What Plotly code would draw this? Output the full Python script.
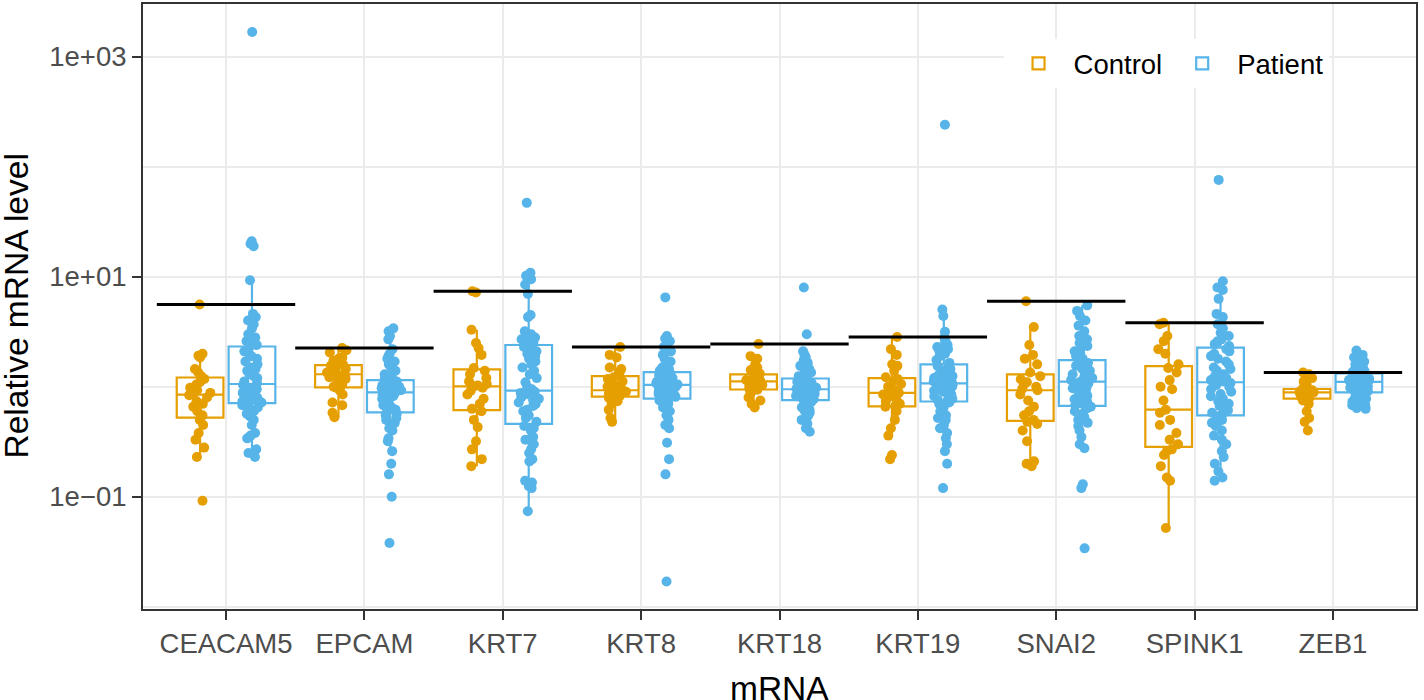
import numpy as np
import plotly.graph_objects as go

genes = ["CEACAM5", "EPCAM", "KRT7", "KRT8", "KRT18", "KRT19", "SNAI2", "SPINK1", "ZEB1"]
group_names = ["Control", "Patient"]
group_colors = ["#E69F00", "#56B4E9"]
x_title = "mRNA"
y_title = "Relative mRNA level"

# ---- Relative mRNA levels ----
CEACAM5_control = [5.6, 2.0, 1.92, 1.85, 1.45, 1.35, 1.25, 1.18, 1.1, 1.05, 0.98, 0.93, 0.88, 0.86,
                   0.84, 0.80, 0.74, 0.70, 0.66, 0.60, 0.55, 0.50, 0.45, 0.38, 0.33, 0.28, 0.23, 0.092]
CEACAM5_patient = [1680, 21, 20, 19, 9.3, 4.6, 4.3, 4.0, 3.7, 3.4, 3.0, 2.8, 2.6, 2.5, 2.4,
                   2.25, 2.1, 2.0, 1.9, 1.8, 1.7, 1.6, 1.5, 1.45, 1.4, 1.3, 1.25, 1.2, 1.12, 1.08,
                   1.04, 1.0, 0.98, 0.95, 0.92, 0.9, 0.88, 0.85, 0.82, 0.8, 0.78, 0.76, 0.74, 0.73, 0.72,
                   0.70, 0.68, 0.65, 0.62, 0.6, 0.57, 0.54, 0.5, 0.45, 0.38, 0.36, 0.34, 0.27, 0.25, 0.23]
EPCAM_control = [2.25, 2.15, 2.05, 1.85, 1.8, 1.72, 1.6, 1.55, 1.5, 1.45, 1.4, 1.35, 1.32, 1.30,
                 1.27, 1.22, 1.18, 1.12, 1.05, 1.0, 0.98, 0.92, 0.85, 0.72, 0.68, 0.58, 0.53]
EPCAM_patient = [3.4, 3.2, 2.9, 2.7, 2.2, 2.0, 1.9, 1.8, 1.7, 1.6, 1.5, 1.4, 1.3, 1.25, 1.18,
                 1.12, 1.1, 1.08, 1.05, 1.03, 1.0, 0.99, 0.97, 0.96, 0.95, 0.94, 0.93, 0.92, 0.91, 0.90,
                 0.88, 0.86, 0.84, 0.82, 0.8, 0.78, 0.76, 0.74, 0.72, 0.7, 0.68, 0.66, 0.64, 0.62, 0.6,
                 0.57, 0.55, 0.52, 0.5, 0.47, 0.45, 0.42, 0.4, 0.34, 0.32, 0.26, 0.2, 0.16, 0.1, 0.038]
KRT7_control = [7.4, 7.2, 3.3, 2.5, 2.25, 1.95, 1.48, 1.40, 1.3, 1.2, 1.12, 1.06, 1.03, 1.01,
                0.98, 0.92, 0.85, 0.78, 0.7, 0.63, 0.6, 0.5, 0.43, 0.32, 0.27, 0.22, 0.19]
KRT7_patient = [47, 10.9, 10.2, 9.5, 8.5, 7.0, 4.5, 4.3, 3.2, 3.0, 2.9, 2.8, 2.7, 2.6, 2.5,
                2.3, 2.2, 2.1, 2.0, 1.9, 1.8, 1.7, 1.6, 1.5, 1.4, 1.3, 1.2, 1.1, 1.0, 0.95,
                0.9, 0.88, 0.85, 0.82, 0.8, 0.78, 0.75, 0.72, 0.7, 0.67, 0.62, 0.6, 0.55, 0.52, 0.48,
                0.44, 0.42, 0.4, 0.35, 0.33, 0.3, 0.27, 0.25, 0.22, 0.21, 0.14, 0.135, 0.125, 0.12, 0.074]
KRT8_control = [2.3, 1.95, 1.85, 1.5, 1.45, 1.38, 1.28, 1.22, 1.18, 1.12, 1.05, 1.0, 0.97, 0.93,
                0.91, 0.9, 0.88, 0.86, 0.84, 0.82, 0.81, 0.79, 0.74, 0.7, 0.62, 0.52, 0.48]
KRT8_patient = [6.5, 2.9, 2.75, 2.6, 2.5, 2.3, 2.1, 1.95, 1.8, 1.7, 1.6, 1.55, 1.5, 1.45, 1.4,
                1.32, 1.3, 1.27, 1.25, 1.22, 1.2, 1.18, 1.15, 1.13, 1.11, 1.09, 1.08, 1.07, 1.06, 1.05,
                1.03, 1.0, 0.98, 0.96, 0.95, 0.93, 0.92, 0.9, 0.88, 0.86, 0.85, 0.83, 0.81, 0.8, 0.79,
                0.77, 0.75, 0.72, 0.7, 0.68, 0.65, 0.6, 0.55, 0.5, 0.45, 0.42, 0.31, 0.22, 0.16, 0.017]
KRT18_control = [2.45, 1.9, 1.8, 1.6, 1.5, 1.42, 1.32, 1.27, 1.24, 1.2, 1.18, 1.15, 1.13, 1.12,
                 1.1, 1.07, 1.04, 1.0, 0.97, 0.95, 0.94, 0.92, 0.87, 0.8, 0.75, 0.7, 0.65]
KRT18_patient = [8.0, 3.0, 2.1, 1.95, 1.85, 1.75, 1.65, 1.55, 1.5, 1.45, 1.4, 1.35, 1.3, 1.25, 1.21,
                 1.17, 1.15, 1.13, 1.11, 1.09, 1.07, 1.05, 1.04, 1.02, 1.01, 1.0, 0.99, 0.98, 0.97, 0.96,
                 0.94, 0.93, 0.92, 0.9, 0.89, 0.87, 0.86, 0.85, 0.83, 0.82, 0.8, 0.79, 0.78, 0.77, 0.765,
                 0.75, 0.73, 0.71, 0.69, 0.67, 0.65, 0.62, 0.6, 0.58, 0.55, 0.52, 0.5, 0.46, 0.42, 0.39]
KRT19_control = [2.84, 2.2, 1.95, 1.6, 1.55, 1.4, 1.22, 1.18, 1.12, 1.06, 1.0, 0.95, 0.92, 0.88,
                 0.85, 0.82, 0.78, 0.74, 0.7, 0.67, 0.66, 0.6, 0.5, 0.42, 0.36, 0.24, 0.22]
KRT19_patient = [241, 5.05, 4.4, 3.16, 2.8, 2.6, 2.5, 2.4, 2.3, 2.2, 2.1, 2.0, 1.9, 1.75, 1.65,
                 1.55, 1.5, 1.45, 1.4, 1.36, 1.32, 1.28, 1.25, 1.22, 1.2, 1.17, 1.15, 1.12, 1.1, 1.09,
                 1.06, 1.04, 1.02, 1.0, 0.97, 0.95, 0.92, 0.9, 0.88, 0.85, 0.82, 0.8, 0.78, 0.76, 0.75,
                 0.72, 0.7, 0.65, 0.6, 0.55, 0.52, 0.5, 0.45, 0.42, 0.38, 0.34, 0.3, 0.26, 0.2, 0.12]
SNAI2_control = [6.0, 3.5, 2.4, 1.95, 1.8, 1.6, 1.35, 1.25, 1.17, 1.1, 1.05, 1.0, 0.96, 0.93,
                 0.85, 0.75, 0.66, 0.6, 0.55, 0.5, 0.48, 0.46, 0.4, 0.32, 0.21, 0.2, 0.19]
SNAI2_patient = [5.5, 4.9, 4.4, 4.0, 3.6, 3.2, 2.9, 2.7, 2.5, 2.35, 2.2, 2.1, 2.0, 1.9, 1.8,
                 1.7, 1.65, 1.6, 1.55, 1.5, 1.45, 1.4, 1.35, 1.3, 1.25, 1.22, 1.2, 1.17, 1.15, 1.13,
                 1.1, 1.07, 1.04, 1.0, 0.97, 0.94, 0.9, 0.86, 0.83, 0.8, 0.77, 0.74, 0.72, 0.7, 0.68,
                 0.66, 0.64, 0.6, 0.57, 0.53, 0.5, 0.47, 0.44, 0.4, 0.35, 0.3, 0.276, 0.13, 0.12, 0.034]
SPINK1_control = [3.82, 3.7, 2.9, 2.6, 2.2, 2.0, 1.6, 1.48, 1.35, 1.15, 1.0, 0.95, 0.75, 0.62,
                  0.58, 0.5, 0.45, 0.38, 0.33, 0.3, 0.27, 0.26, 0.24, 0.19, 0.15, 0.14, 0.052]
SPINK1_patient = [76, 9.1, 8.0, 7.6, 6.3, 4.6, 4.3, 3.7, 3.4, 3.1, 2.9, 2.7, 2.6, 2.45, 2.35,
                  2.2, 2.1, 2.0, 1.9, 1.8, 1.7, 1.6, 1.5, 1.45, 1.4, 1.3, 1.25, 1.2, 1.15, 1.12,
                  1.08, 1.04, 1.0, 0.95, 0.9, 0.86, 0.82, 0.78, 0.74, 0.7, 0.67, 0.64, 0.61, 0.58, 0.56,
                  0.54, 0.52, 0.5, 0.47, 0.44, 0.4, 0.36, 0.33, 0.3, 0.26, 0.23, 0.2, 0.17, 0.15, 0.14]
ZEB1_control = [1.35, 1.3, 1.25, 1.2, 1.12, 1.05, 0.98, 0.93, 0.92, 0.91, 0.9, 0.895, 0.89, 0.89,
                0.88, 0.87, 0.85, 0.83, 0.81, 0.79, 0.77, 0.75, 0.7, 0.6, 0.52, 0.48, 0.40]
ZEB1_patient = [2.14, 1.95, 1.85, 1.75, 1.7, 1.65, 1.6, 1.55, 1.5, 1.47, 1.44, 1.41, 1.38, 1.36, 1.34,
                1.31, 1.29, 1.27, 1.25, 1.23, 1.21, 1.2, 1.18, 1.17, 1.16, 1.15, 1.14, 1.13, 1.12, 1.115,
                1.1, 1.08, 1.06, 1.04, 1.02, 1.0, 0.98, 0.97, 0.96, 0.95, 0.94, 0.93, 0.92, 0.91, 0.9,
                0.88, 0.86, 0.84, 0.82, 0.8, 0.78, 0.76, 0.75, 0.73, 0.72, 0.7, 0.68, 0.66, 0.64, 0.63]

control_sets = [CEACAM5_control, EPCAM_control, KRT7_control, KRT8_control, KRT18_control,
                KRT19_control, SNAI2_control, SPINK1_control, ZEB1_control]
patient_sets = [CEACAM5_patient, EPCAM_patient, KRT7_patient, KRT8_patient, KRT18_patient,
                KRT19_patient, SNAI2_patient, SPINK1_patient, ZEB1_patient]

y_tick_values = [0.1, 10, 1000]
y_tick_labels = ["1e\u221201", "1e+01", "1e+03"]
y_minor_values = [0.01, 1, 100]

FONT = "Liberation Sans, Arial, Helvetica, sans-serif"

fig = go.Figure()
for name, color, sets in zip(group_names, group_colors, [control_sets, patient_sets]):
    xs, ys = [], []
    for g, vals in zip(genes, sets):
        xs += [g] * len(vals)
        ys += list(np.log10(vals))
    fig.add_trace(go.Box(
        x=xs, y=ys, name=name,
        boxpoints="all", jitter=0.5, pointpos=0,
        quartilemethod="inclusive",
        line=dict(color=color, width=2.2),
        fillcolor="white",
        marker=dict(color=color, size=10, opacity=1, line=dict(width=0)),
        whiskerwidth=0,
    ))

# Horizontal reference line at the highest control value of each gene
for i, vals in enumerate(control_sets):
    yv = float(np.log10(max(vals)))
    fig.add_shape(type="line", xref="x", yref="y", x0=i - 0.5, x1=i + 0.5, y0=yv, y1=yv,
                  line=dict(color="black", width=3), layer="above")

# Axis titles
fig.add_annotation(text=x_title, xref="paper", yref="paper", x=0.5, y=0,
                   xanchor="center", yanchor="top", yshift=-59, showarrow=False,
                   font=dict(size=33.5, color="black", family=FONT))
fig.add_annotation(text=y_title, xref="paper", yref="paper", x=0, y=0.5,
                   xanchor="center", yanchor="middle", xshift=-127, textangle=-90,
                   showarrow=False, font=dict(size=33.5, color="black", family=FONT))

grid_col = "#EBEBEB"
fig.update_layout(
    width=1424, height=700,
    margin=dict(l=143, r=8, t=4, b=91, autoexpand=False),
    paper_bgcolor="white", plot_bgcolor="white",
    boxmode="group", boxgap=0.25, boxgroupgap=0.1,
    font=dict(family=FONT, color="black"),
    showlegend=True,
    legend=dict(
        orientation="h", x=0.676, xanchor="left", y=0.942, yanchor="top",
        bgcolor="white", borderwidth=0,
        font=dict(size=27.5, color="black", family=FONT),
        itemwidth=60,
    ),
    xaxis=dict(
        type="category", categoryorder="array", categoryarray=genes,
        range=[-0.6, 8.6], automargin=False,
        showgrid=True, gridcolor=grid_col, gridwidth=2.2,
        ticks="outside", ticklen=9, tickwidth=2, tickcolor="#333333",
        tickfont=dict(size=27.5, color="#4D4D4D", family=FONT),
        showline=True, mirror=True, linecolor="#333333", linewidth=2,
        zeroline=False,
    ),
    yaxis=dict(
        range=[-2.02, 3.48], automargin=False,
        tickmode="array", tickvals=list(np.log10(y_tick_values)), ticktext=y_tick_labels,
        showgrid=True, gridcolor=grid_col, gridwidth=2.2,
        minor=dict(tickmode="array", tickvals=list(np.log10(y_minor_values)),
                   showgrid=True, gridcolor=grid_col, gridwidth=1.6, ticks=""),
        ticks="outside", ticklen=9, tickwidth=2, tickcolor="#333333",
        tickfont=dict(size=27.5, color="#4D4D4D", family=FONT),
        showline=True, mirror=True, linecolor="#333333", linewidth=2,
        zeroline=False,
    ),
)

fig.write_html("out.html", config={"displayModeBar": False},
               post_script="document.body.style.margin='0';")
